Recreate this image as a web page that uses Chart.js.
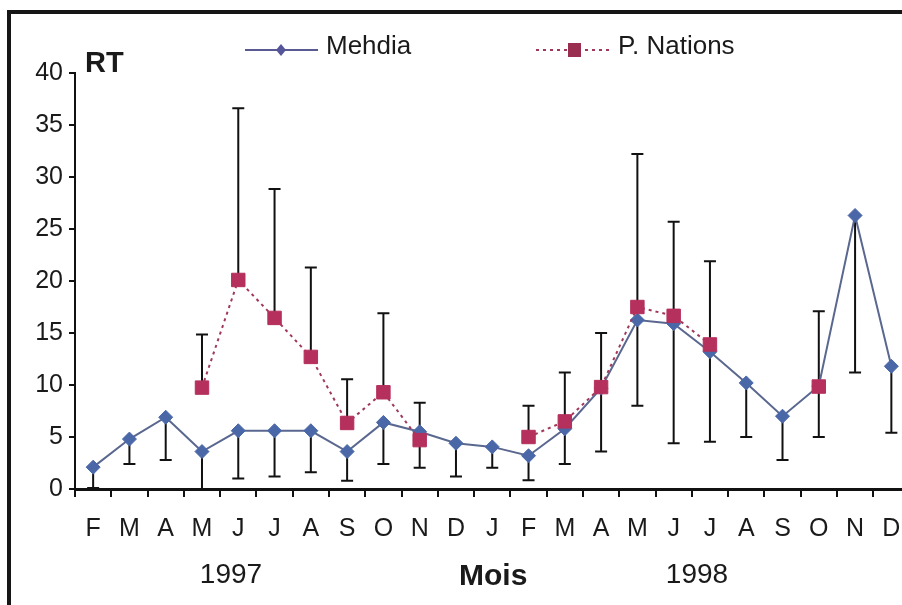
<!DOCTYPE html>
<html>
<head>
<meta charset="utf-8">
<script src="https://cdn.jsdelivr.net/npm/chart.js@4/dist/chart.umd.min.js"></script>
<style>
  html, body { margin: 0; padding: 0; background: #fff; width: 902px; height: 605px; overflow: hidden; }
  #wrap { position: relative; width: 902px; height: 605px; overflow: hidden; }
  #frame { position: absolute; left: 7px; top: 10px; width: 1200px; height: 1200px;
           border-left: 4px solid #161616; border-top: 4px solid #161616; pointer-events: none; }
  canvas { position: absolute; left: 0; top: 0; }
</style>
</head>
<body>
<div id="wrap">
  <canvas id="c" width="920" height="605"></canvas>
  <div id="frame"></div>
</div>
<script>
// ---- data ----
const months = ["F","M","A","M","J","J","A","S","O","N","D","J","F","M","A","M","J","J","A","S","O","N","D"];
const mehdia = [2.1, 4.8, 6.9, 3.6, 5.6, 5.6, 5.6, 3.6, 6.4, 5.5, 4.4, 4.05, 3.2, 5.8, 9.7, 16.25, 15.9, 13.2, 10.2, 7.0, 9.9, 26.3, 11.8];
const mehdiaLow = [0.1, 2.4, 2.8, 0.0, 1.0, 1.2, 1.6, 0.8, 2.4, 2.05, 1.2, 2.05, 0.85, 2.4, 3.6, 8.0, 4.4, 4.55, 5.0, 2.8, 5.0, 11.2, 5.4];
const pNations = [null, null, null, 9.75, 20.1, 16.45, 12.7, 6.35, 9.3, 4.7, null, null, 5.0, 6.5, 9.8, 17.5, 16.65, 13.9, null, null, 9.85, null, null];
const pNationsHigh = [null, null, null, 14.85, 36.6, 28.85, 21.3, 10.55, 16.9, 8.3, null, null, 8.0, 11.2, 15.0, 32.2, 25.7, 21.9, null, null, 17.1, null, null];
const yTicks = [0, 5, 10, 15, 20, 25, 30, 35, 40];
const seriesNames = ["Mehdia", "P. Nations"];
const yearLabels = ["1997", "1998"];
const xTitle = "Mois";
const yTitle = "RT";

const FONT = "'Liberation Sans', Arial, sans-serif";
const MEHDIA_LINE = '#5a6890';
const MEHDIA_PT = '#4a67a8';
const PN_LINE = '#a0385a';
const PN_PT = '#b5305c';

const errorBars = {
  id: 'errorBars',
  beforeDatasetsDraw(chart) {
    const ctx = chart.ctx, x = chart.scales.x, y = chart.scales.y;
    ctx.save();
    ctx.strokeStyle = '#111';
    ctx.lineWidth = 2;
    const cap = 6;
    const draw = (vals, ends) => {
      vals.forEach((v, i) => {
        const e = ends[i];
        if (v == null || e == null) return;
        const px = x.getPixelForValue(i);
        const p0 = y.getPixelForValue(v), p1 = y.getPixelForValue(e);
        ctx.beginPath();
        ctx.moveTo(px, p0); ctx.lineTo(px, p1);
        ctx.moveTo(px - cap, p1); ctx.lineTo(px + cap, p1);
        ctx.stroke();
      });
    };
    draw(mehdia, mehdiaLow);
    draw(pNations, pNationsHigh);
    ctx.restore();
  }
};

const annotations = {
  id: 'annotations',
  afterDraw(chart) {
    const ctx = chart.ctx;
    ctx.save();
    ctx.fillStyle = '#1a1a1a';
    ctx.textBaseline = 'alphabetic';
    // y title
    ctx.font = 'bold 29px ' + FONT;
    ctx.textAlign = 'left';
    ctx.fillText(yTitle, 85, 72);
    // years and x title
    ctx.font = '28px ' + FONT;
    ctx.textAlign = 'center';
    ctx.fillText(yearLabels[0], 231, 583);
    ctx.fillText(yearLabels[1], 697, 583);
    ctx.font = 'bold 30px ' + FONT;
    ctx.textAlign = 'left';
    ctx.fillText(xTitle, 459, 585);
    // legend
    ctx.lineWidth = 2;
    ctx.strokeStyle = '#5a5a92';
    ctx.beginPath(); ctx.moveTo(245, 50); ctx.lineTo(318, 50); ctx.stroke();
    ctx.fillStyle = '#55559a';
    ctx.beginPath();
    ctx.moveTo(281, 44); ctx.lineTo(286, 50); ctx.lineTo(281, 56); ctx.lineTo(276, 50); ctx.closePath(); ctx.fill();
    ctx.strokeStyle = PN_LINE;
    ctx.setLineDash([3, 4]);
    ctx.beginPath(); ctx.moveTo(536, 50); ctx.lineTo(609, 50); ctx.stroke();
    ctx.setLineDash([]);
    ctx.fillStyle = '#9a2e50';
    ctx.fillRect(568, 43, 13, 14);
    ctx.fillStyle = '#1a1a1a';
    ctx.font = '26px ' + FONT;
    ctx.textBaseline = 'middle';
    ctx.fillText(seriesNames[0], 326, 47);
    ctx.fillText(seriesNames[1], 618, 47);
    ctx.restore();
  }
};

new Chart(document.getElementById('c'), {
  type: 'line',
  data: {
    labels: months,
    datasets: [
      {
        label: seriesNames[0], data: mehdia, order: 2,
        borderColor: MEHDIA_LINE, borderWidth: 2, tension: 0,
        pointStyle: 'rectRot', pointRadius: 7, pointBackgroundColor: MEHDIA_PT,
        pointBorderColor: MEHDIA_PT, pointBorderWidth: 1
      },
      {
        label: seriesNames[1], data: pNations, order: 1, spanGaps: false,
        borderColor: PN_LINE, borderWidth: 2, borderDash: [3, 4], tension: 0,
        pointStyle: 'rect', pointRadius: 9.5, pointBackgroundColor: PN_PT,
        pointBorderColor: PN_PT, pointBorderWidth: 1
      }
    ]
  },
  options: {
    responsive: false,
    animation: false,
    devicePixelRatio: 1,
    layout: { padding: { top: 73, right: 8, left: 0, bottom: 0 } },
    plugins: { legend: { display: false }, tooltip: { enabled: false } },
    scales: {
      x: {
        type: 'category',
        offset: true,
        afterFit(axis) { axis.height = 116; },
        grid: { offset: true, drawOnChartArea: false, drawTicks: true, tickLength: 8, color: '#111', lineWidth: 2 },
        border: { display: true, color: '#111', width: 3 },
        ticks: { color: '#1a1a1a', font: { family: FONT, size: 25 }, padding: 17, maxRotation: 0, autoSkip: false }
      },
      y: {
        min: 0, max: 40,
        afterFit(axis) { axis.width = 75; },
        afterBuildTicks(axis) { axis.ticks = yTicks.map(v => ({ value: v })); },
        grid: { drawOnChartArea: false, drawTicks: true, tickLength: 6, color: '#111', lineWidth: 2 },
        border: { display: true, color: '#111', width: 2 },
        ticks: { color: '#1a1a1a', font: { family: FONT, size: 25 }, padding: 6 }
      }
    }
  },
  plugins: [errorBars, annotations]
});
</script>
</body>
</html>
